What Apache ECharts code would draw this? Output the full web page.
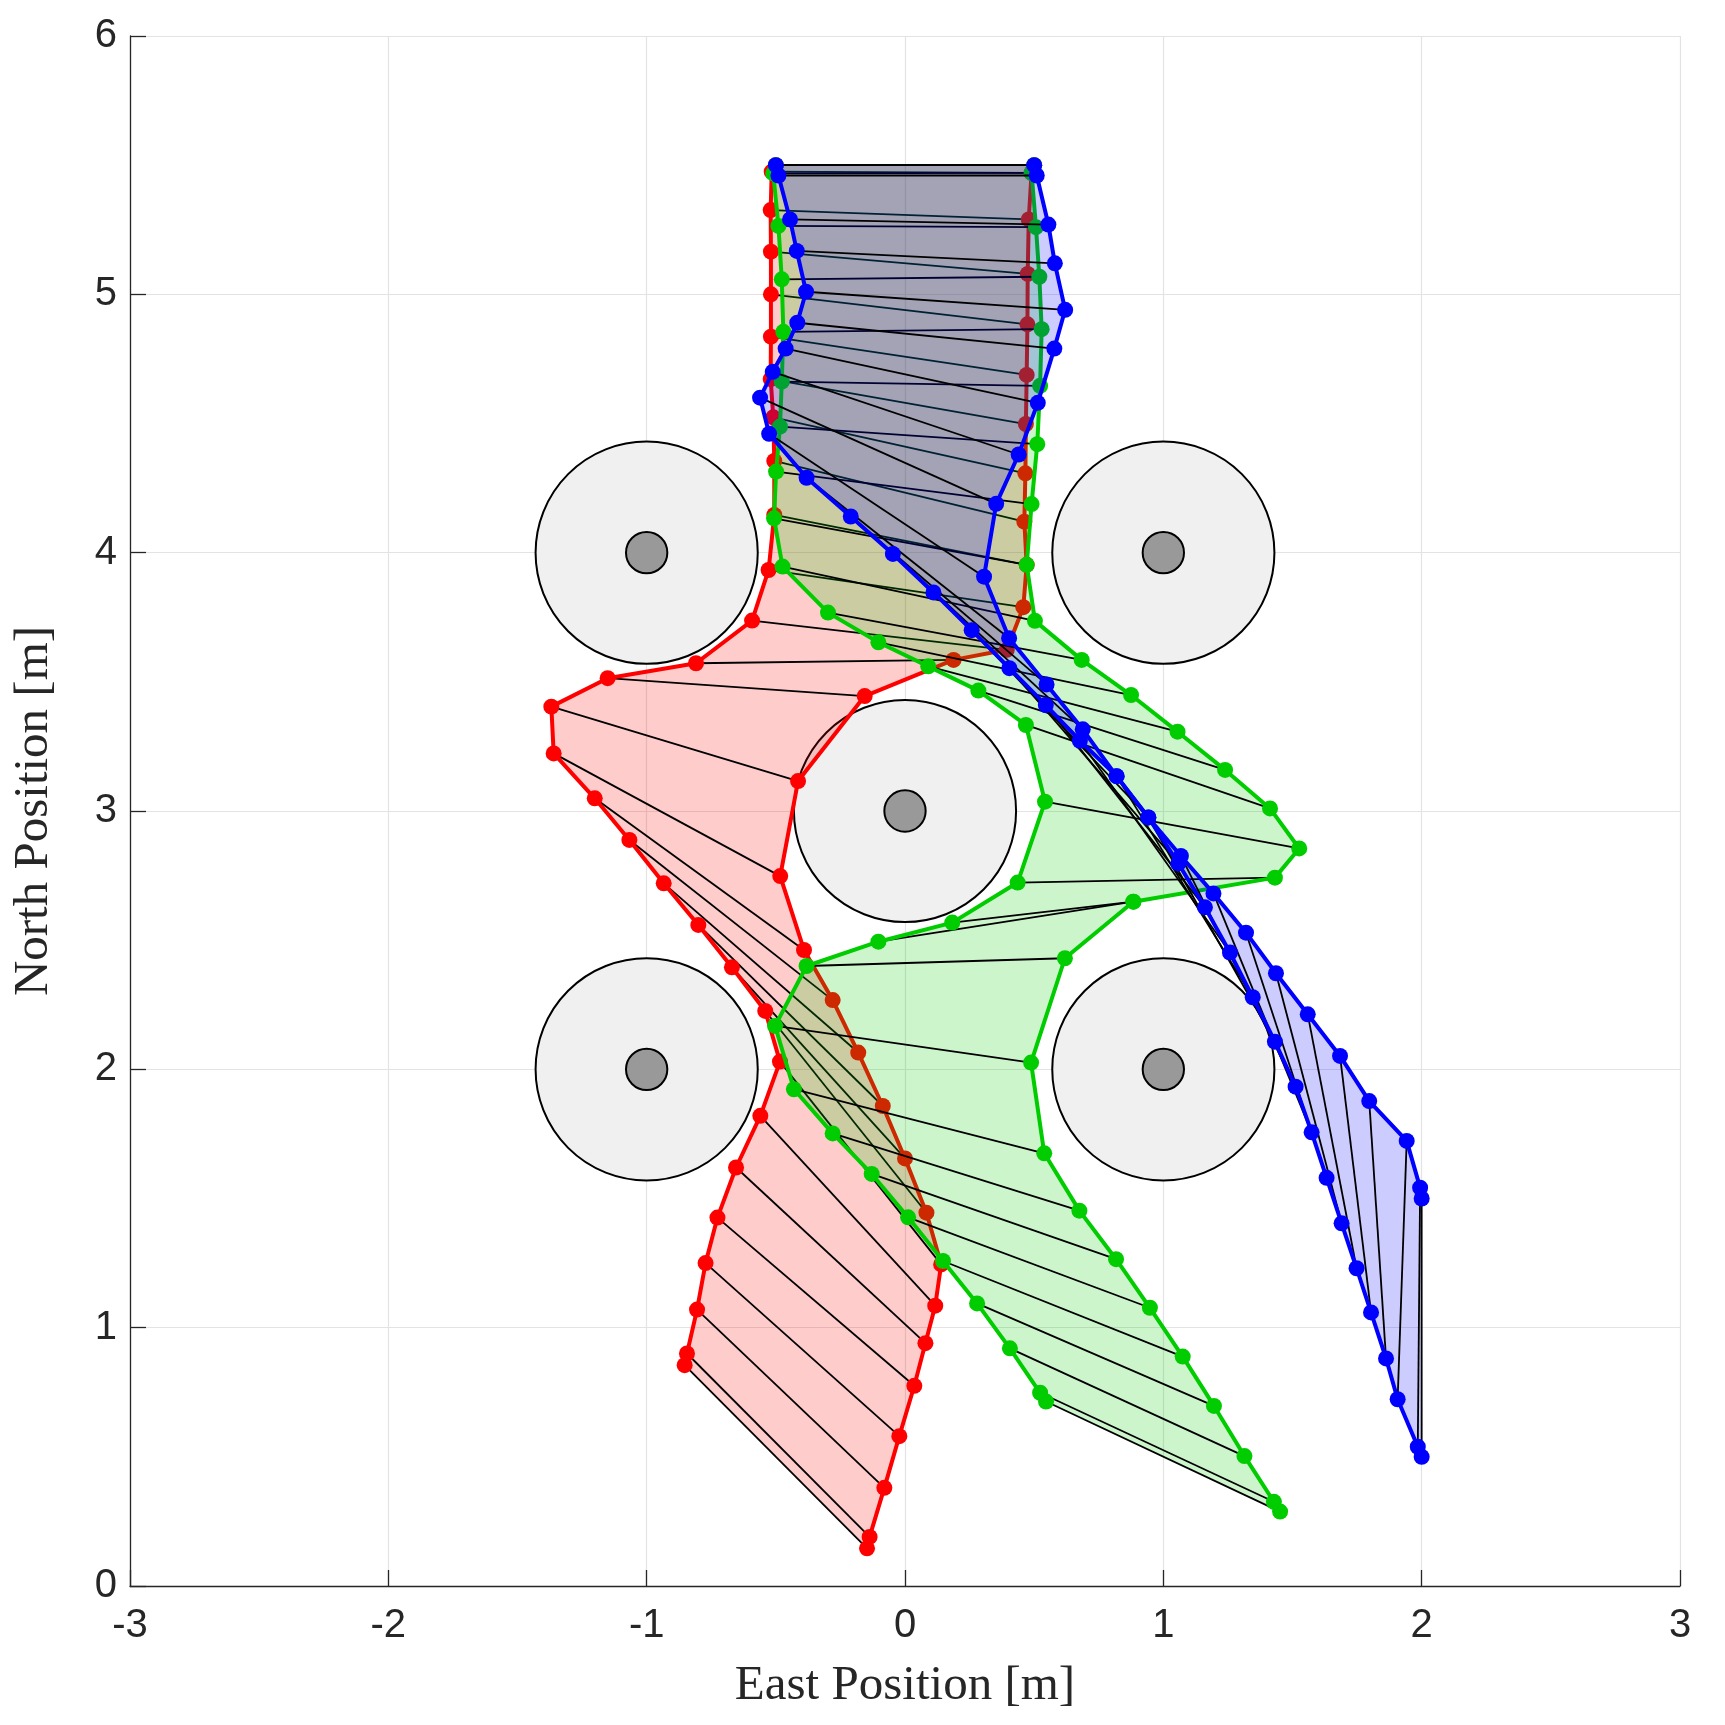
<!DOCTYPE html>
<html>
<head>
<meta charset="utf-8">
<title>Bar paths around obstacles</title>
<script src="https://cdn.jsdelivr.net/npm/echarts@6/dist/echarts.min.js"></script>
<style>
  html, body { margin: 0; padding: 0; background: #ffffff; }
  #chart { width: 1725px; height: 1725px; }
</style>
</head>
<body>
<div id="chart"></div>
<script>
// obstacles (centres)
const obstacleX = [-1, 1, 0, -1, 1];
const obstacleY = [4, 4, 3, 2, 2];
const obstacleOuterR = 0.43;
const obstacleInnerR = 0.08;

// red bar: both end trajectories
const redLeftX = [-0.853, -0.844, -0.805, -0.772, -0.726, -0.654, -0.56, -0.484, -0.541, -0.67, -0.8, -0.934, -1.067, -1.201, -1.36, -1.369, -1.151, -0.809, -0.592, -0.528, -0.506, -0.506, -0.51, -0.52, -0.519, -0.519, -0.519, -0.52, -0.516, -0.5];
const redLeftY = [0.855, 0.9, 1.07, 1.25, 1.426, 1.62, 1.82, 2.03, 2.226, 2.395, 2.559, 2.72, 2.888, 3.049, 3.223, 3.404, 3.514, 3.572, 3.737, 3.933, 4.146, 4.355, 4.524, 4.672, 4.836, 5.0, 5.165, 5.326, 5.475, 5.5];
const redRightX = [-0.147, -0.137, -0.08, -0.022, 0.036, 0.079, 0.117, 0.14, 0.083, 0.0, -0.086, -0.181, -0.28, -0.391, -0.483, -0.414, -0.156, 0.188, 0.394, 0.458, 0.471, 0.462, 0.466, 0.468, 0.471, 0.474, 0.475, 0.479, 0.49, 0.5];
const redRightY = [0.146, 0.19, 0.38, 0.58, 0.775, 0.94, 1.085, 1.245, 1.445, 1.655, 1.858, 2.065, 2.268, 2.462, 2.748, 3.116, 3.445, 3.585, 3.624, 3.789, 3.953, 4.12, 4.307, 4.498, 4.688, 4.884, 5.079, 5.29, 5.47, 5.5];

// green bar
const greenLeftX = [0.546, 0.523, 0.406, 0.279, 0.147, 0.012, -0.129, -0.28, -0.43, -0.503, -0.381, -0.103, 0.183, 0.436, 0.542, 0.468, 0.284, 0.09, -0.103, -0.298, -0.474, -0.507, -0.499, -0.484, -0.477, -0.471, -0.477, -0.49, -0.51, -0.5];
const greenLeftY = [0.714, 0.748, 0.92, 1.094, 1.258, 1.427, 1.595, 1.752, 1.923, 2.168, 2.4, 2.494, 2.568, 2.723, 3.036, 3.333, 3.466, 3.56, 3.653, 3.768, 3.946, 4.133, 4.314, 4.488, 4.662, 4.855, 5.058, 5.265, 5.468, 5.5];
const greenRightX = [1.452, 1.428, 1.314, 1.196, 1.075, 0.948, 0.817, 0.675, 0.539, 0.488, 0.619, 0.884, 0.884, 1.432, 1.526, 1.413, 1.239, 1.055, 0.875, 0.684, 0.503, 0.471, 0.49, 0.512, 0.523, 0.529, 0.52, 0.507, 0.49, 0.5];
const greenRightY = [0.288, 0.326, 0.503, 0.697, 0.888, 1.077, 1.265, 1.453, 1.675, 2.026, 2.43, 2.649, 2.649, 2.742, 2.855, 3.01, 3.159, 3.307, 3.449, 3.585, 3.736, 3.953, 4.188, 4.42, 4.646, 4.865, 5.068, 5.26, 5.47, 5.5];

// blue bar
const blueLeftX = [2.0, 1.994, 1.942, 1.797, 1.684, 1.559, 1.436, 1.32, 1.194, 1.068, 0.942, 0.819, 0.677, 0.545, 0.404, 0.258, 0.11, -0.047, -0.21, -0.381, -0.526, -0.561, -0.512, -0.462, -0.417, -0.383, -0.419, -0.445, -0.49, -0.5];
const blueLeftY = [1.5, 1.542, 1.723, 1.877, 2.052, 2.213, 2.372, 2.529, 2.681, 2.826, 2.975, 3.135, 3.272, 3.41, 3.553, 3.7, 3.846, 3.995, 4.14, 4.29, 4.46, 4.6, 4.7, 4.79, 4.89, 5.01, 5.168, 5.29, 5.46, 5.5];
const blueRightX = [2.0, 1.985, 1.907, 1.862, 1.804, 1.748, 1.69, 1.632, 1.574, 1.512, 1.432, 1.346, 1.258, 1.161, 1.058, 0.942, 0.819, 0.688, 0.548, 0.403, 0.306, 0.353, 0.44, 0.514, 0.578, 0.62, 0.58, 0.555, 0.51, 0.5];
const blueRightY = [0.5, 0.539, 0.723, 0.881, 1.059, 1.23, 1.404, 1.58, 1.756, 1.933, 2.107, 2.279, 2.452, 2.627, 2.797, 2.975, 3.135, 3.316, 3.49, 3.669, 3.907, 4.189, 4.38, 4.58, 4.79, 4.94, 5.12, 5.27, 5.46, 5.5];

const axisTicks = [-3, -2, -1, 0, 1, 2, 3];

function toPairs(xs, ys) {
  return xs.map(function (x, i) { return [x, ys[i]]; });
}

// obstacle discs, radius given in data units
function discSeries(radius, fill, z) {
  return {
    type: 'custom',
    z: z,
    silent: true,
    data: toPairs(obstacleX, obstacleY),
    renderItem: function (params, api) {
      let c = api.coord([api.value(0), api.value(1)]);
      let r = api.size([radius, 0])[0];
      return {
        type: 'circle',
        shape: { cx: c[0], cy: c[1], r: r },
        style: { fill: fill, stroke: '#000000', lineWidth: 2 }
      };
    }
  };
}

// translucent area between the two end trajectories
function fillSeries(ax, ay, bx, by, color, z) {
  let pts = toPairs(ax, ay).concat(toPairs(bx, by).reverse());
  return {
    type: 'custom',
    z: z,
    silent: true,
    data: [[ax[0], ay[0]]],
    renderItem: function (params, api) {
      return {
        type: 'polygon',
        shape: { points: pts.map(function (p) { return api.coord(p); }) },
        style: { fill: color, opacity: 0.2 }
      };
    }
  };
}

// black segment joining the two ends at every step
function linkSeries(ax, ay, bx, by, z) {
  return {
    type: 'custom',
    z: z,
    silent: true,
    data: ax.map(function (x, i) { return [x, ay[i], bx[i], by[i]]; }),
    renderItem: function (params, api) {
      let p1 = api.coord([api.value(0), api.value(1)]);
      let p2 = api.coord([api.value(2), api.value(3)]);
      return {
        type: 'line',
        shape: { x1: p1[0], y1: p1[1], x2: p2[0], y2: p2[1] },
        style: { stroke: '#000000', lineWidth: 1.8 }
      };
    }
  };
}

function pathSeries(xs, ys, color, z) {
  return {
    type: 'line',
    z: z,
    silent: true,
    data: toPairs(xs, ys),
    symbol: 'circle',
    symbolSize: 16,
    showAllSymbol: true,
    lineStyle: { color: color, width: 4 },
    itemStyle: { color: color },
    emphasis: { disabled: true }
  };
}

function barSeries(ax, ay, bx, by, color, zBase) {
  return [
    fillSeries(ax, ay, bx, by, color, zBase),
    linkSeries(ax, ay, bx, by, zBase + 1),
    pathSeries(ax, ay, color, zBase + 2),
    pathSeries(bx, by, color, zBase + 2)
  ];
}

let myChart = echarts.init(document.getElementById('chart'));

let axisCommon = {
  type: 'value',
  interval: 1,
  nameLocation: 'middle',
  nameTextStyle: { fontFamily: 'Liberation Serif', fontSize: 49, color: '#262626' },
  axisLine: { onZero: false, lineStyle: { color: '#262626', width: 1.3 } },
  axisTick: { inside: true, length: 16, lineStyle: { color: '#262626', width: 1.3 } },
  axisLabel: { fontFamily: 'Liberation Sans', fontSize: 40, color: '#262626' },
  splitLine: { show: true, lineStyle: { color: '#e3e3e3', width: 1.2 } }
};

let option = {
  animation: false,
  backgroundColor: '#ffffff',
  grid: { left: 130, right: 45, top: 36, bottom: 139 },
  xAxis: Object.assign({}, axisCommon, {
    min: axisTicks[0],
    max: axisTicks[axisTicks.length - 1],
    name: 'East Position [m]',
    nameGap: 76,
    axisLabel: Object.assign({}, axisCommon.axisLabel, { margin: 20 })
  }),
  yAxis: Object.assign({}, axisCommon, {
    min: 0,
    max: 6,
    name: 'North Position [m]',
    nameGap: 71,
    axisLabel: Object.assign({}, axisCommon.axisLabel, { margin: 13 })
  }),
  series: [
    discSeries(obstacleOuterR, '#f0f0f0', 1),
    discSeries(obstacleInnerR, '#999999', 1)
  ]
    .concat(barSeries(redLeftX, redLeftY, redRightX, redRightY, '#ff0000', 2))
    .concat(barSeries(greenLeftX, greenLeftY, greenRightX, greenRightY, '#00cc00', 5))
    .concat(barSeries(blueLeftX, blueLeftY, blueRightX, blueRightY, '#0000ff', 8))
};

myChart.setOption(option);
</script>
</body>
</html>
